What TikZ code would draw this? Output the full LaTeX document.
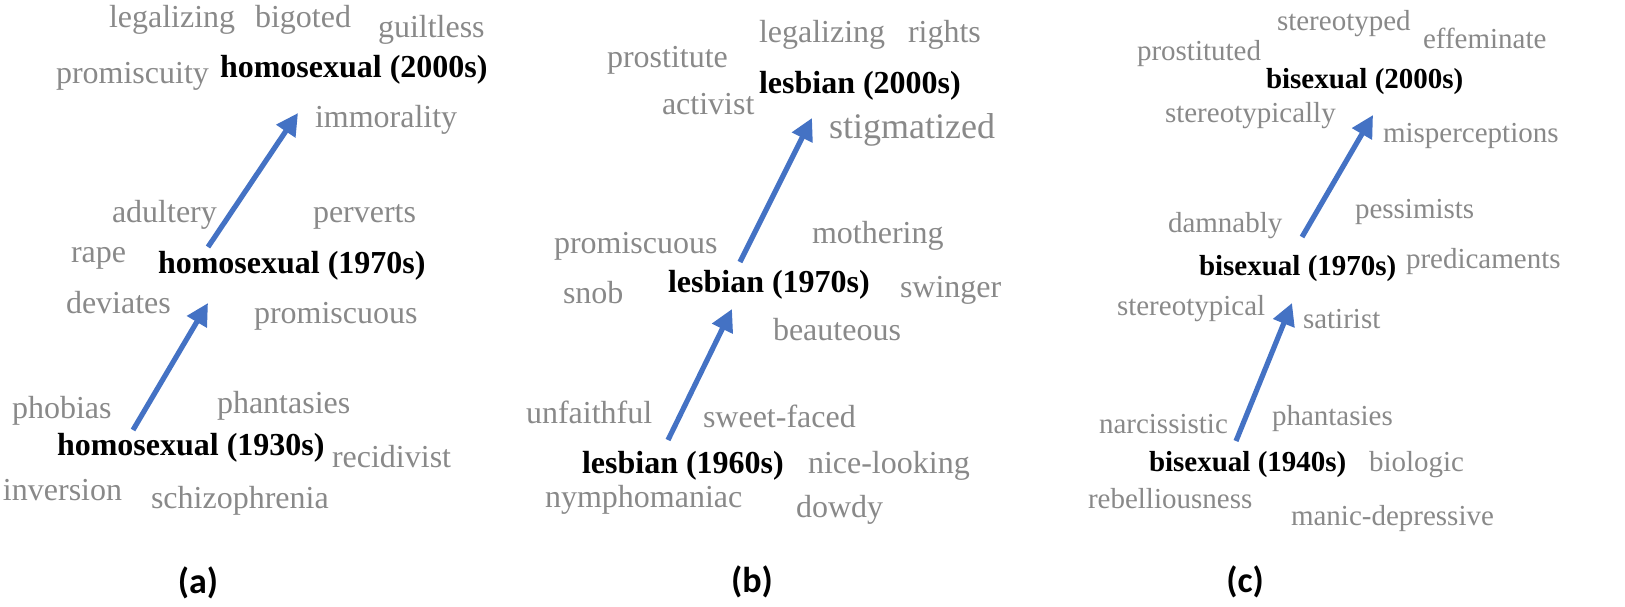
\documentclass[tikz,border=0pt]{standalone}
\usepackage{fontspec}
\setmainfont{Liberation Serif}
\newfontfamily\labfont{Carlito}
\usetikzlibrary{arrows.meta}
\definecolor{wordgray}{RGB}{137,137,137}
\definecolor{arrowblue}{RGB}{68,114,196}
\tikzset{
  word/.style={anchor=base west, inner sep=0pt, outer sep=0pt, text=wordgray, font=\fontsize{16}{19}\selectfont},
  bigword/.style={word, font=\fontsize{18}{21}\selectfont},
  smallword/.style={word, font=\fontsize{14.5}{17}\selectfont},
  term/.style={anchor=base west, inner sep=0pt, outer sep=0pt, text=black, font=\fontsize{16}{19}\selectfont\bfseries},
  smallterm/.style={term, font=\fontsize{14.5}{17}\selectfont\bfseries},
  panel/.style={anchor=base, inner sep=0pt, outer sep=0pt, font=\labfont\fontsize{18}{21}\selectfont\bfseries},
  shiftarrow/.style={draw=arrowblue, line width=2.6pt, -{Triangle[length=11pt,width=11pt]}}
}
\begin{document}
\begin{tikzpicture}[x=0.5pt,y=-0.5pt]
\useasboundingbox (0,0) rectangle (1625,606);
% ---------------- panel (a)
\node[word] (a1) at (109,27) {legalizing};
\node[word] (a2) at (255,27) {bigoted};
\node[word] (a3) at (378,37) {guiltless};
\node[word] (a4) at (56,83) {promiscuity};
\node[term] (aT3) at (220,77) {homosexual (2000s)};
\node[word] (a5) at (315,127) {immorality};
\node[word] (a6) at (112,222) {adultery};
\node[word] (a7) at (313,222) {perverts};
\node[word] (a8) at (71,262) {rape};
\node[term] (aT2) at (158,273) {homosexual (1970s)};
\node[word] (a9) at (66,313) {deviates};
\node[word] (a10) at (254,323) {promiscuous};
\node[word] (a11) at (12,418) {phobias};
\node[word] (a12) at (217,413) {phantasies};
\node[term] (aT1) at (57,455) {homosexual (1930s)};
\node[word] (a13) at (332,467) {recidivist};
\node[word] (a14) at (3,500) {inversion};
\node[word] (a15) at (151,508) {schizophrenia};
\node[panel] (la) at (198,593) {(a)};
\coordinate (aS1) at (133,430);
\coordinate (aE1) at (208,303);
\coordinate (aS2) at (208,247);
\coordinate (aE2) at (298,113);
\draw[shiftarrow] (aS1) -- (aE1);
\draw[shiftarrow] (aS2) -- (aE2);
% ---------------- panel (b)
\node[word] (b1) at (759,42) {legalizing};
\node[word] (b2) at (908,42) {rights};
\node[word] (b3) at (607,67) {prostitute};
\node[term] (bT3) at (759,93) {lesbian (2000s)};
\node[word] (b4) at (662,114) {activist};
\node[bigword] (b5) at (829,138) {stigmatized};
\node[word] (b6) at (554,253) {promiscuous};
\node[word] (b7) at (812,243) {mothering};
\node[word] (b8) at (563,303) {snob};
\node[term] (bT2) at (668,292) {lesbian (1970s)};
\node[word] (b9) at (900,297) {swinger};
\node[word] (b10) at (773,340) {beauteous};
\node[word] (b11) at (526,423) {unfaithful};
\node[word] (b12) at (703,427) {sweet-faced};
\node[term] (bT1) at (582,473) {lesbian (1960s)};
\node[word] (b13) at (808,473) {nice-looking};
\node[word] (b14) at (545,507) {nymphomaniac};
\node[word] (b15) at (796,517) {dowdy};
\node[panel] (lb) at (752,592) {(b)};
\coordinate (bS1) at (668,440);
\coordinate (bE1) at (732,309);
\coordinate (bS2) at (740,262);
\coordinate (bE2) at (812,118);
\draw[shiftarrow] (bS1) -- (bE1);
\draw[shiftarrow] (bS2) -- (bE2);
% ---------------- panel (c)
\node[smallword] (c1) at (1277,30) {stereotyped};
\node[smallword] (c2) at (1423,48) {effeminate};
\node[smallword] (c3) at (1137,60) {prostituted};
\node[smallterm] (cT3) at (1266,88) {bisexual (2000s)};
\node[smallword] (c4) at (1165,122) {stereotypically};
\node[smallword] (c5) at (1383,142) {misperceptions};
\node[smallword] (c6) at (1168,232) {damnably};
\node[smallword] (c7) at (1355,218) {pessimists};
\node[smallterm] (cT2) at (1199,275) {bisexual (1970s)};
\node[smallword] (c8) at (1406,268) {predicaments};
\node[smallword] (c9) at (1117,315) {stereotypical};
\node[smallword] (c10) at (1303,328) {satirist};
\node[smallword] (c11) at (1099,433) {narcissistic};
\node[smallword] (c12) at (1272,425) {phantasies};
\node[smallterm] (cT1) at (1149,471) {bisexual (1940s)};
\node[smallword] (c13) at (1369,471) {biologic};
\node[smallword] (c14) at (1088,508) {rebelliousness};
\node[smallword] (c15) at (1291,525) {manic-depressive};
\node[panel] (lc) at (1245,592) {(c)};
\coordinate (cS1) at (1236,441);
\coordinate (cE1) at (1292,303);
\coordinate (cS2) at (1302,237);
\coordinate (cE2) at (1373,115);
\draw[shiftarrow] (cS1) -- (cE1);
\draw[shiftarrow] (cS2) -- (cE2);
\end{tikzpicture}
\end{document}
